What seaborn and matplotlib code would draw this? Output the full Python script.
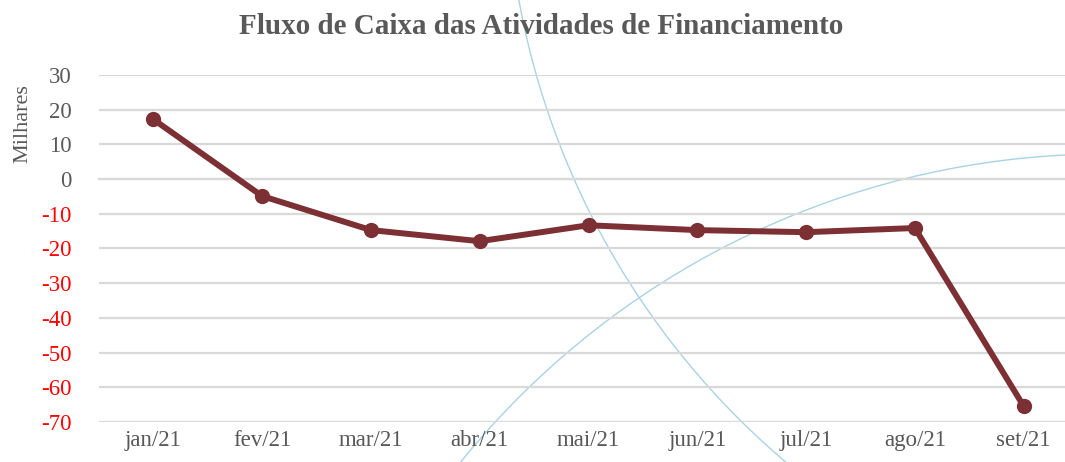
import numpy as np
import pandas as pd
import matplotlib
matplotlib.use("Agg")
import matplotlib.pyplot as plt
from matplotlib.patches import Arc
import seaborn as sns

months = ["jan/21", "fev/21", "mar/21", "abr/21", "mai/21", "jun/21", "jul/21", "ago/21", "set/21"]
values = [17.2, -4.9, -14.7, -17.9, -13.3, -14.7, -15.3, -14.1, -65.4]
yticks = [30, 20, 10, 0, -10, -20, -30, -40, -50, -60, -70]

sns.set_theme(style="white")
plt.rcParams['font.family'] = ['Liberation Serif', 'DejaVu Serif']

W, H = 1065, 462
fig = plt.figure(figsize=(W / 100, H / 100), dpi=100)

# decorative background arcs (pixel space)
bg = fig.add_axes([0, 0, 1, 1], zorder=0)
bg.set_xlim(0, W)
bg.set_ylim(H, 0)
bg.axis("off")
bg.add_patch(Arc((1298, -142), 2 * 792, 2 * 792, theta1=0, theta2=360,
                 color="#A9D3E4", lw=1.0))
bg.add_patch(Arc((1106, 984), 2 * 830, 2 * 830, theta1=0, theta2=360,
                 color="#A9D3E4", lw=1.0))

left, right, top, bottom = 99, 1078, 75, 422
ax = fig.add_axes([left / W, 1 - bottom / H, (right - left) / W, (bottom - top) / H], zorder=1)
ax.set_facecolor("none")

df = pd.DataFrame({"mes": months, "valor": values})
sns.lineplot(data=df, x="mes", y="valor", ax=ax, color="#7D3034", lw=4.3,
             marker="o", markersize=11, markeredgewidth=0, sort=False, zorder=3)

ax.set_ylim(-70, 30)
ax.set_xlim(-0.5, len(months) - 0.5)
ax.set_yticks(yticks)
ax.set_yticklabels([str(v) for v in yticks], fontsize=16.5)
for lab, v in zip(ax.get_yticklabels(), yticks):
    lab.set_color("#FF0000" if v < 0 else "#595959")
ax.tick_params(axis="y", length=0, pad=19.5)
ax.grid(axis="y", color="#D9D9D9", lw=1.6)
ax.set_axisbelow(True)

for s in ["left", "right", "top"]:
    ax.spines[s].set_visible(False)
ax.spines["bottom"].set_position(("data", 0))
ax.spines["bottom"].set_color("#D9D9D9")
ax.spines["bottom"].set_linewidth(1.6)
ax.set_xticks(np.arange(-0.5, len(months) + 0.5, 1.0))
ax.set_xticklabels([])
ax.tick_params(axis="x", length=6, width=1.6, color="#D9D9D9", direction="out")
ax.set_xlabel("")

sec = ax.secondary_xaxis(location=0)
sec.set_xticks(range(len(months)), labels=months, fontsize=16.5, color="#595959")
sec.tick_params(length=0, pad=6)
sec.spines["bottom"].set_visible(False)

ax.set_ylabel("Milhares", fontsize=16, color="#595959")
ax.yaxis.set_label_coords(-0.068, 0.86)

fig.text(541 / W, 1 - 27 / H, "Fluxo de Caixa das Atividades de Financiamento",
         ha="center", va="center", fontsize=21, fontweight="bold", color="#595959")

fig.savefig("out.png", dpi=100)
